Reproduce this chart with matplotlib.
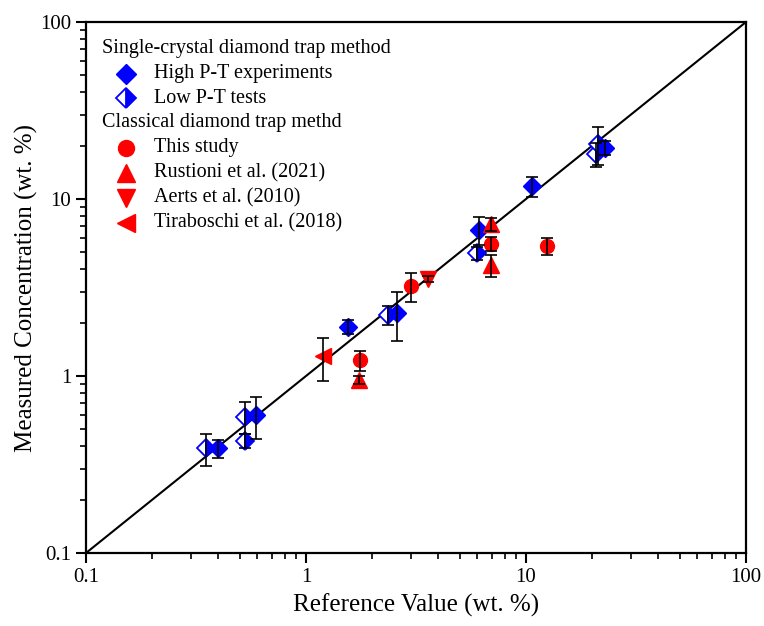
import numpy as np
import matplotlib
matplotlib.use('Agg')
import matplotlib.pyplot as plt
from matplotlib.ticker import FixedLocator, FixedFormatter, LogLocator, NullFormatter

plt.rcParams['font.family'] = ['Liberation Serif', 'DejaVu Serif']

# Single-crystal diamond trap, high P-T experiments
high_x = [0.40, 0.59, 1.56, 2.58, 6.1, 10.7, 22.8]
high_y = [0.39, 0.60, 1.90, 2.28, 6.7, 11.8, 19.5]
high_err = [0.045, 0.16, 0.18, 0.7, 1.2, 1.6, 1.8]

# Single-crystal diamond trap, low P-T tests
low_x = [0.35, 0.53, 0.53, 2.36, 5.97, 20.8, 21.3]
low_y = [0.39, 0.59, 0.43, 2.21, 4.93, 18.0, 20.5]
low_err = [0.08, 0.12, 0.04, 0.26, 0.4, 2.8, 5.0]

# Classical diamond trap
this_x = [1.76, 3.0, 6.93, 12.4]
this_y = [1.23, 3.22, 5.57, 5.43]
this_err = [0.16, 0.6, 0.5, 0.6]

rust_x = [1.75, 6.93, 6.93]
rust_y = [0.95, 7.22, 4.24]
rust_err = [0.05, 0.6, 0.6]

aerts_x = [3.6]
aerts_y = [3.53]
aerts_err = [0.15]

tira_x = [1.2]
tira_y = [1.29]
tira_err = [0.35]

ticks = [0.1, 1, 10, 100]
tick_labels = ['0.1', '1', '10', '100']

BLUE = '#0000ff'
RED = '#ff0000'

fig = plt.figure(figsize=(7.64, 6.26), dpi=100)
ax = fig.add_axes([86/764, 73/626, 660/764, 531/626])

# 1:1 line
ax.plot(ticks, ticks, color='black', lw=1.5, zorder=1)

series = [
    (high_x, high_y, high_err, dict(marker='D', ms=9, color=BLUE, mec=BLUE)),
    (low_x, low_y, low_err, dict(marker='D', ms=9, color=BLUE, mec=BLUE, mew=1.3,
                                 fillstyle='right', markerfacecoloralt='white')),
    (this_x, this_y, this_err, dict(marker='o', ms=10, color=RED, mec=RED)),
    (rust_x, rust_y, rust_err, dict(marker='^', ms=11, color=RED, mec=RED)),
    (aerts_x, aerts_y, aerts_err, dict(marker='v', ms=11, color=RED, mec=RED)),
    (tira_x, tira_y, tira_err, dict(marker='<', ms=11, color=RED, mec=RED)),
]

for x, y, e, st in series:
    ax.plot(x, y, ls='none', zorder=2, **st)
    ax.errorbar(x, y, yerr=e, fmt='none', ecolor='black', elinewidth=1.2,
                capsize=4.5, capthick=1.2, zorder=3)

ax.set_xscale('log')
ax.set_yscale('log')
ax.set_xlim(0.1, 100)
ax.set_ylim(0.1, 100)

for axis in (ax.xaxis, ax.yaxis):
    axis.set_major_locator(FixedLocator(ticks))
    axis.set_major_formatter(FixedFormatter(tick_labels))
    axis.set_minor_locator(LogLocator(base=10, subs=np.arange(2, 10)))
    axis.set_minor_formatter(NullFormatter())

ax.tick_params(which='major', direction='out', length=7, width=1.5, labelsize=15,
               top=False, right=False)
ax.tick_params(which='minor', direction='out', length=4, width=1.2,
               top=False, right=False)
for sp in ax.spines.values():
    sp.set_linewidth(1.6)

ax.set_xlabel('Reference Value (wt. %)', fontsize=18, labelpad=5)
ax.set_ylabel('Measured Concentration (wt. %)', fontsize=18, labelpad=2)

# grouped legend drawn in axes coordinates
fs = 14.5
ax.text(0.025, 0.951, 'Single-crystal diamond trap method', transform=ax.transAxes,
        fontsize=fs, va='center', ha='left')
ax.text(0.025, 0.810, 'Classical diamond trap methd', transform=ax.transAxes,
        fontsize=fs, va='center', ha='left')

entries = [
    (0.903, 'High P-T experiments', series[0][3]),
    (0.856, 'Low P-T tests', series[1][3]),
    (0.763, 'This study', series[2][3]),
    (0.716, 'Rustioni et al. (2021)', series[3][3]),
    (0.668, 'Aerts et al. (2010)', series[4][3]),
    (0.622, 'Tiraboschi et al. (2018)', series[5][3]),
]
for yy, lab, st in entries:
    big = dict(st, ms=st['ms'] + 1.5)
    ax.plot([0.0606], [yy], ls='none', transform=ax.transAxes, clip_on=False, **big)
    ax.text(0.1035, yy, lab, transform=ax.transAxes, fontsize=fs, va='center', ha='left')

fig.savefig('out.png', dpi=100)
